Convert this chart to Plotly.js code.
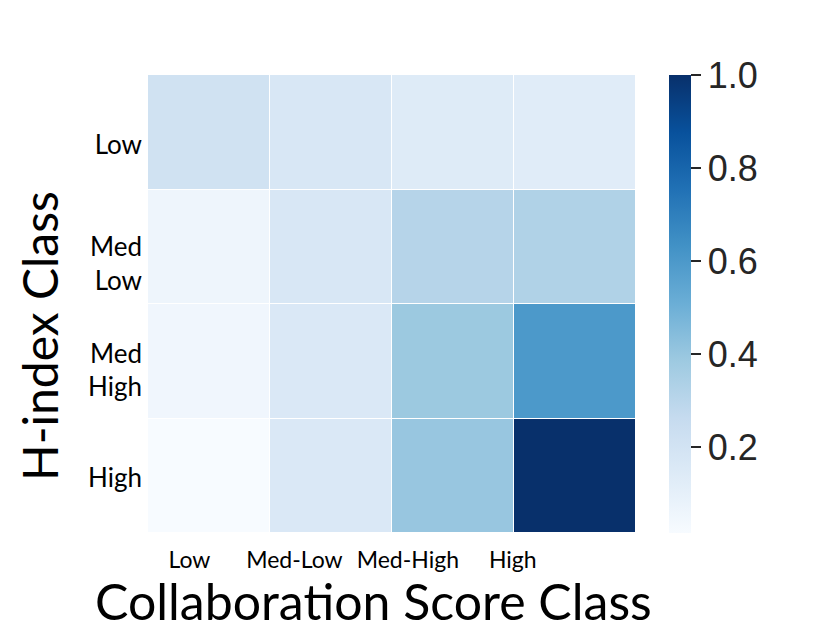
<!DOCTYPE html>
<html>
<head>
<meta charset="utf-8">
<script src="https://cdn.plot.ly/plotly-3.0.1.min.js"></script>
<style>
  html, body { margin: 0; padding: 0; background: #fff; }
  #chart { width: 830px; height: 642px; }
</style>
</head>
<body>
<div id="chart"></div>
<script>
// categories
const collabClasses = ["Low", "Med-Low", "Med-High", "High"];
const hindexClasses = ["Low", "Med<br>Low", "Med<br>High", "High"];

// one row per h-index class (top to bottom), one value per collaboration class
const rowLow     = [0.21, 0.17, 0.14, 0.13];
const rowMedLow  = [0.06, 0.17, 0.31, 0.33];
const rowMedHigh = [0.05, 0.16, 0.39, 0.60];
const rowHigh    = [0.015, 0.16, 0.40, 1.0];

const colorbarTicks = [0.2, 0.4, 0.6, 0.8, 1.0];

// matplotlib "Blues"
const blues = [
  [0.0, "#f7fbff"], [0.125, "#deebf7"], [0.25, "#c6dbef"],
  [0.375, "#9ecae1"], [0.5, "#6baed6"], [0.625, "#4292c6"],
  [0.75, "#2171b5"], [0.875, "#08519c"], [1.0, "#08306b"]
];

// labels in the original sit a little off the cell centres
const xLabelShift = [-0.16, -0.3, -0.37, -0.51];
const yLabelShift = [0.11, 0.15, 0.08, 0.02];

const idx = collabClasses.map((_, i) => i);
const textFont = "Lato, 'Open Sans', sans-serif";

const trace = {
  type: "heatmap",
  x: idx,
  y: hindexClasses.map((_, i) => i),
  z: [rowLow, rowMedLow, rowMedHigh, rowHigh],
  zmin: 0.015,
  zmax: 1.0,
  colorscale: blues,
  xgap: 1,
  ygap: 1,
  hoverongaps: false,
  colorbar: {
    x: 1.0676,
    xanchor: "left",
    xpad: 0,
    y: 0.5,
    ypad: 0,
    len: 1,
    thickness: 22,
    outlinewidth: 0,
    ticks: "outside",
    ticklen: 10,
    tickwidth: 1.5,
    tickcolor: "#262626",
    tickvals: colorbarTicks,
    ticktext: colorbarTicks.map(v => v.toFixed(1)),
    tickfont: { family: "'Liberation Sans', Arial, sans-serif", size: 36, color: "#262626" }
  }
};

const layout = {
  width: 830,
  height: 642,
  margin: { l: 148, r: 194, t: 75, b: 109 },
  paper_bgcolor: "#fff",
  plot_bgcolor: "#fff",
  xaxis: {
    range: [-0.5, 3.5],
    tickvals: idx.map((i, k) => i + xLabelShift[k]),
    ticktext: collabClasses,
    ticks: "outside",
    ticklen: 6,
    tickcolor: "rgba(0,0,0,0)",
    showgrid: false,
    zeroline: false,
    showline: false,
    tickfont: { family: textFont, size: 23, color: "#000" }
  },
  yaxis: {
    range: [3.5, -0.5],
    tickvals: idx.map((i, k) => i + yLabelShift[k]),
    ticktext: hindexClasses,
    ticks: "",
    ticklabelstandoff: 5,
    showgrid: false,
    zeroline: false,
    showline: false,
    tickfont: { family: textFont, size: 26, color: "#000" }
  },
  annotations: [
    {
      text: "Collaboration Score Class",
      xref: "paper", yref: "paper",
      x: (373 - 148) / 488, y: (533 - 601) / 458,
      xanchor: "center", yanchor: "middle",
      showarrow: false,
      font: { family: textFont, size: 50, color: "#000" }
    },
    {
      text: "H-index Class",
      xref: "paper", yref: "paper",
      x: (39 - 148) / 488, y: (533 - 336) / 458,
      xanchor: "center", yanchor: "middle",
      textangle: -90,
      showarrow: false,
      font: { family: textFont, size: 48, color: "#000" }
    }
  ]
};

Plotly.newPlot("chart", [trace], layout, { displayModeBar: false, staticPlot: true });
</script>
</body>
</html>
